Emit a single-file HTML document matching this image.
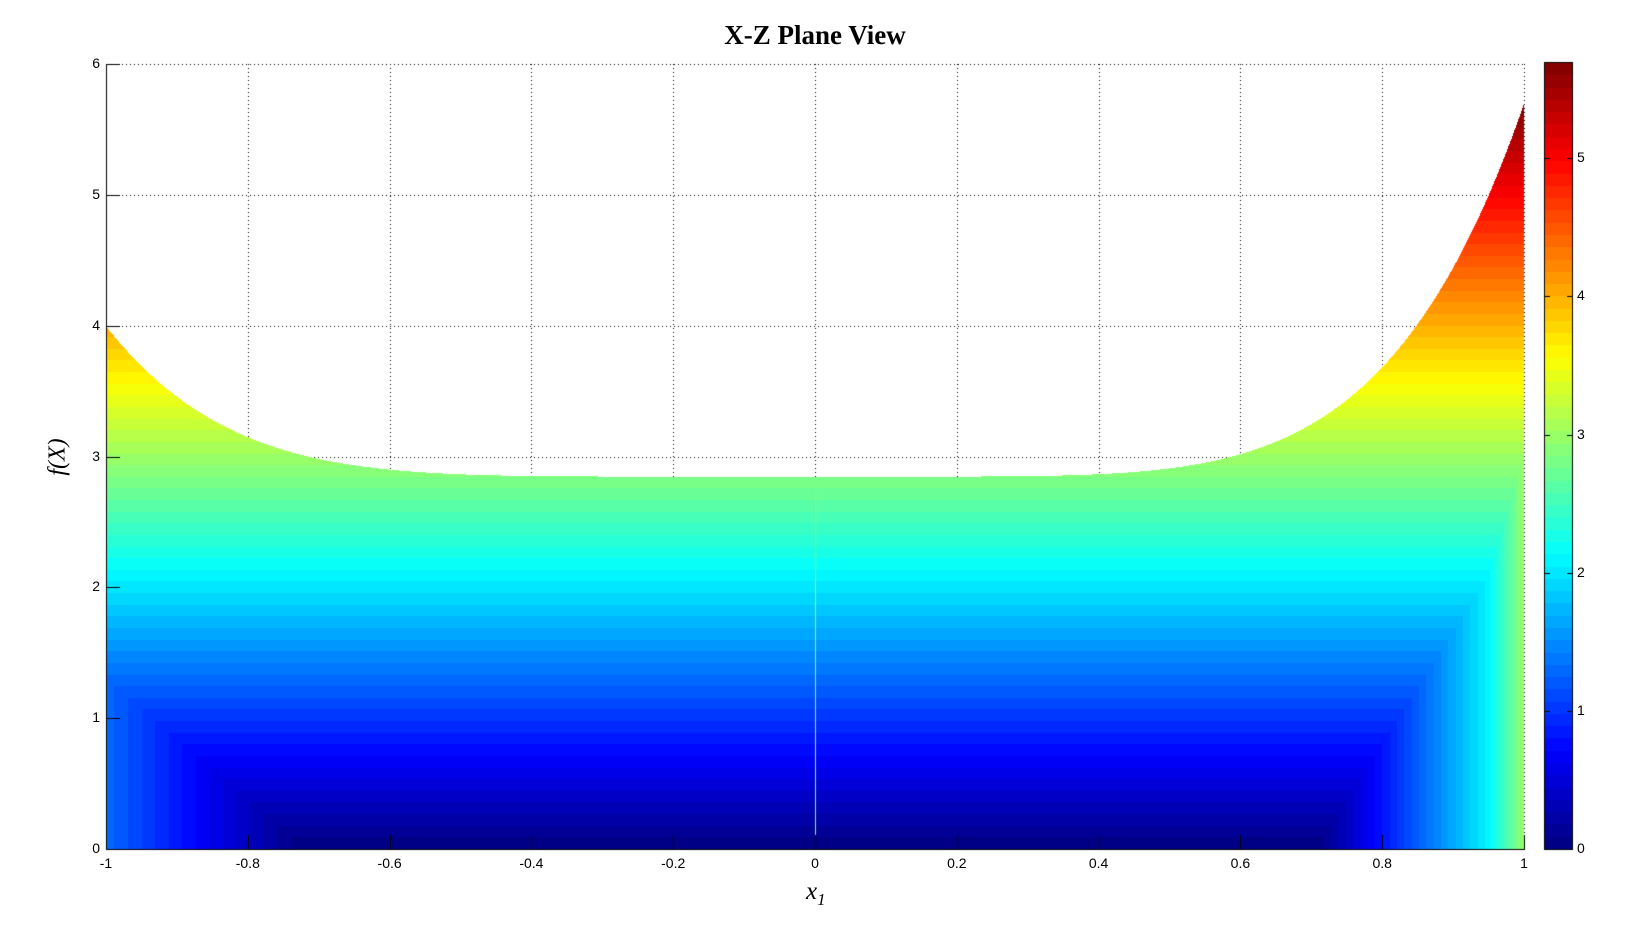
<!DOCTYPE html>
<html><head><meta charset="utf-8"><style>
html,body{margin:0;padding:0;background:#fff;width:1632px;height:945px;overflow:hidden}
#c{position:absolute;left:0;top:0}
.t{position:absolute;font-family:"Liberation Sans",sans-serif;font-size:14px;color:#000;white-space:nowrap}
</style></head><body>
<canvas id="c" width="1632" height="945"></canvas>
<div style="position:absolute;left:0;width:1632px;top:20px;text-align:center;font:bold 27px 'Liberation Serif',serif;padding-left:0"><span style="position:absolute;left:815px;transform:translateX(-50%)">X-Z Plane View</span></div>
<div style="position:absolute;left:58px;top:457px;transform:translate(-50%,-50%) rotate(-90deg);font:italic 24px 'Liberation Serif',serif">f(X)</div>
<div style="position:absolute;left:806px;top:878px;font:italic 25px 'Liberation Serif',serif">x<sub style="font-size:17px">1</sub></div>
<div id="labels"></div>
<script>
const L=106,R=1524,T=64,B=849,W=R-L,H=B-T;
const cv=document.getElementById('c'),ctx=cv.getContext('2d');
function jet(i){ // i in 0..63
  const x=(i+0.5)/64;
  function f(v){return Math.max(0,Math.min(1,v));}
  const r=f(1.5-Math.abs(4*x-3)),g=f(1.5-Math.abs(4*x-2)),b=f(1.5-Math.abs(4*x-1));
  return [Math.round(r*255),Math.round(g*255),Math.round(b*255)];
}
const VMAX=5.69;
function fx(x){return x<0?2.85+1.15*Math.pow(-x,6):2.85+2.85*Math.pow(x,5.5);}
function hx(x){
  if(x<0){const a=(-x-0.72)/0.28;return a>0?1.3*a:0;}
  if(x<0.707)return 0;
  if(x<0.95)return 8.6*(x-0.707);
  return 2.09+(x-0.95)/0.05*0.9;
}
// grid
ctx.fillStyle='#000';
function dotH(y){for(let x=L;x<=R;x+=4)ctx.fillRect(x,y,1,1);}
function dotV(x){for(let y=T;y<=B;y+=4)ctx.fillRect(x,y,1,1);}
for(let k=0;k<=6;k++)dotH(Math.round(B-k*H/6));
for(let k=0;k<=10;k++)dotV(Math.round(L+k*W/10));
// surface
const img=ctx.getImageData(0,0,1632,945),d=img.data;
for(let px=L;px<R;px++){
  const x=-1+2*(px+0.5-L)/W;
  const top=B-fx(x)*H/6, h=hx(x);
  for(let py=Math.ceil(top);py<B;py++){
    const z=(B-py-0.5)*6/H;
    const v=Math.max(z,h);
    let i=Math.floor(v/VMAX*64);if(i>63)i=63;if(i<0)i=0;
    const c=jet(i),o=(py*1632+px)*4;
    d[o]=c[0];d[o+1]=c[1];d[o+2]=c[2];d[o+3]=255;
  }
}
// center line
const cx=Math.round(L+W/2);
for(let py=Math.ceil(B-2.85*H/6);py<B-2;py++){const o=(py*1632+cx)*4;d[o]=128;d[o+1]=255;d[o+2]=128;}
// colorbar
const CL=1545,CR=1572,CT=63,CB=849;
for(let py=CT;py<CB;py++){
  const v=(CB-py-0.5)/(CB-CT)*VMAX;let i=Math.floor(v/VMAX*64);if(i>63)i=63;
  const c=jet(i);
  for(let px=CL;px<CR;px++){const o=(py*1632+px)*4;d[o]=c[0];d[o+1]=c[1];d[o+2]=c[2];d[o+3]=255;}
}
ctx.putImageData(img,0,0);
ctx.fillStyle='#000';
ctx.fillRect(L,T,1,H+1);ctx.fillRect(L,B,W+1,1);
for(let k=0;k<=6;k++)ctx.fillRect(L,Math.round(B-k*H/6),14,1);
for(let k=0;k<=10;k++)ctx.fillRect(Math.round(L+k*W/10),B-14,1,14);
ctx.strokeStyle='#000';ctx.lineWidth=1;ctx.strokeRect(CL-0.5,CT-0.5,CR-CL+1,CB-CT+1);
const per=(CB-CT)/VMAX;
for(let k=0;k<=5;k++){const y=Math.round(CB-k*per);ctx.fillRect(CL,y,5,1);ctx.fillRect(CR-5,y,5,1);}
let html='';
for(let k=0;k<=6;k++)html+=`<div class="t" style="left:${L-20}px;top:${B-k*H/6-9}px;width:14px;text-align:right">${k}</div>`;
const xl=['-1','-0.8','-0.6','-0.4','-0.2','0','0.2','0.4','0.6','0.8','1'];
for(let k=0;k<=10;k++)html+=`<div class="t" style="left:${L+k*W/10-30}px;top:${B+6}px;width:60px;text-align:center">${xl[k]}</div>`;
for(let k=0;k<=5;k++)html+=`<div class="t" style="left:${CR+5}px;top:${CB-k*per-9}px">${k}</div>`;
document.getElementById('labels').innerHTML=html;
</script>
</body></html>
